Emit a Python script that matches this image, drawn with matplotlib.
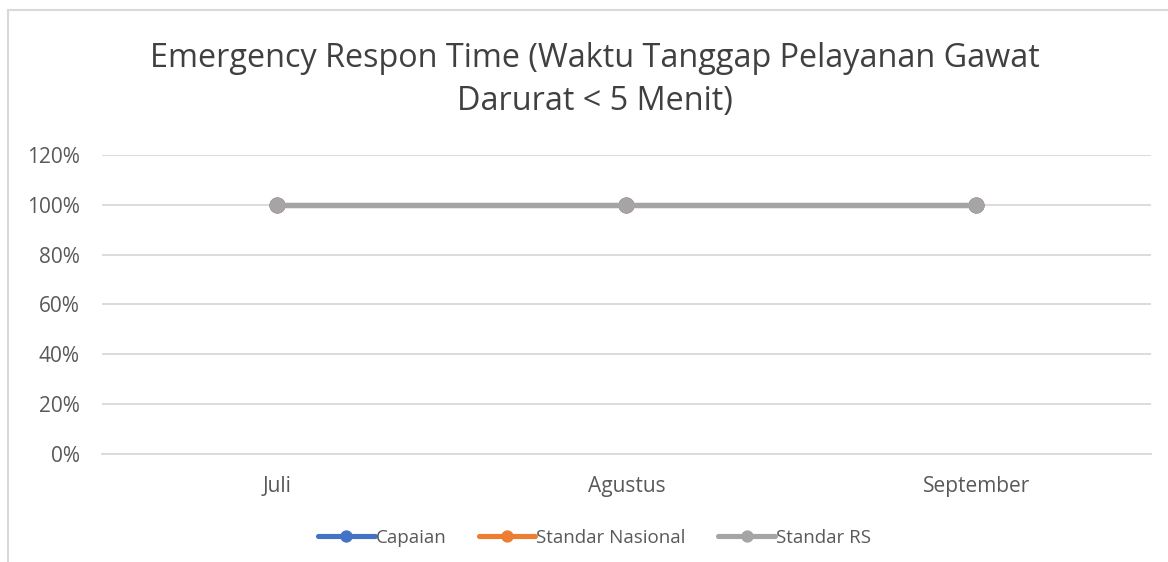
import matplotlib.pyplot as plt
from matplotlib.patches import Rectangle
from matplotlib.ticker import FuncFormatter

plt.rcParams['font.family'] = ['Open Sans', 'DejaVu Sans']

# data
bulan = ['Juli', 'Agustus', 'September']
capaian = [100, 100, 100]
standar_nasional = [100, 100, 100]
standar_rs = [100, 100, 100]

fig = plt.figure(figsize=(11.68, 5.62), dpi=100)
ax = fig.add_axes([0.0873, 0.1922, 0.8981, 0.532])

x = range(len(bulan))
style = dict(lw=3.7, marker='o', markersize=10.5, solid_capstyle='round')
ax.plot(x, capaian, color='#4472C4', label='Capaian', **style)
ax.plot(x, standar_nasional, color='#ED7D31', label='Standar Nasional', **style)
ax.plot(x, standar_rs, color='#A5A5A5', label='Standar RS', **style)

ax.set_xlim(-0.5, 2.5)
ax.set_ylim(0, 120)
ax.set_yticks(range(0, 121, 20))
ax.yaxis.set_major_formatter(FuncFormatter(lambda v, p: f'{v:.0f}%'))
ax.set_xticks(list(x))
ax.set_xticklabels(bulan)
ax.grid(axis='y', color='#D9D9D9', lw=1.3)
ax.set_axisbelow(True)
for s in ['top', 'right', 'left']:
    ax.spines[s].set_visible(False)
ax.spines['bottom'].set_color('#D9D9D9')
ax.spines['bottom'].set_linewidth(1.3)
ax.tick_params(length=0, labelsize=15, colors='#595959')
ax.tick_params(axis='x', pad=16)
ax.tick_params(axis='y', pad=16)

fig.text(0.509, 0.858, 'Emergency Respon Time (Waktu Tanggap Pelayanan Gawat\nDarurat < 5 Menit)',
         ha='center', va='center', fontsize=23.3, color='#404040', linespacing=1.42)

fig.legend(loc='center', bbox_to_anchor=(0.509, 0.043), ncol=3, frameon=False,
           fontsize=13.5, labelcolor='#595959', handlelength=3.0, handletextpad=0.05,
           columnspacing=1.75, markerscale=0.75)

# chart border like the excel frame
fig.patches.append(Rectangle((8 / 1168, -0.1), 1.2, 1.1 - 10 / 562,
                             transform=fig.transFigure, fill=False,
                             ec='#D9D9D9', lw=1.5))

fig.savefig('out.png', dpi=100)
